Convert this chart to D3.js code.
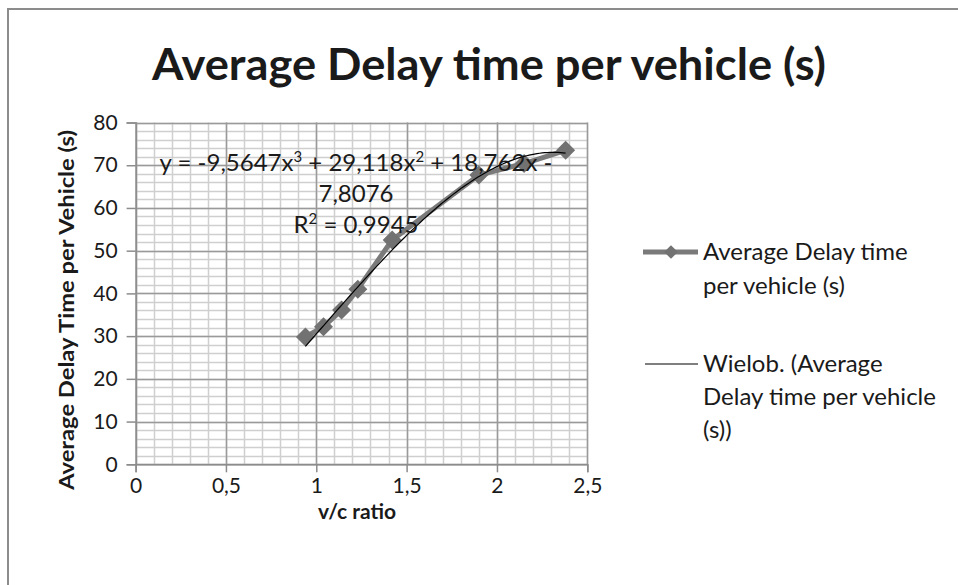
<!DOCTYPE html>
<html>
<head>
<meta charset="utf-8">
<script src="https://d3js.org/d3.v7.min.js"></script>
<style>
body { margin: 0; background: #fff; }
svg { display: block; }
text { font-family: Lato, "Open Sans", sans-serif; fill: #1a1a1a; }
</style>
</head>
<body>
<div id="chart"></div>
<script>
// v/c ratio vs average delay
var vcRatio = [0.94, 1.04, 1.14, 1.23, 1.42, 1.90, 2.15, 2.38];
var avgDelay = [29.8, 32.2, 36.1, 41.0, 52.5, 67.7, 70.4, 73.5];

// polynomial trendline coefficients as printed on the chart (x^3, x^2, x, 1)
var trendCoef = [-9.5647, 29.118, 18.762, -7.8076];
// label pieces: [text, superscript?]
var trendLines = [
	[["y = -9,5647x", 0], ["3", 1], [" + 29,118x", 0], ["2", 1], [" + 18,762x -", 0]],
	[["7,8076", 0]],
	[["R", 0], ["2", 1], [" = 0,9945", 0]]
];

var xTicks = [0, 0.5, 1, 1.5, 2, 2.5];
var yTicks = [0, 10, 20, 30, 40, 50, 60, 70, 80];

var titleText = "Average Delay time per vehicle (s)";
var xTitle = "v/c ratio";
var yTitle = "Average Delay Time per Vehicle (s)";
var legendSeries = ["Average Delay time", "per vehicle (s)"];
var legendTrend = ["Wielob. (Average", "Delay time per vehicle", "(s))"];

var width = 958;
var height = 585;

var svg = d3.select("#chart")
	.append("svg")
	.attr("width", width)
	.attr("height", height);

// chart area border (only top + left visible in the original)
svg.append("rect")
	.attr("x", 8)
	.attr("y", 9)
	.attr("width", 980)
	.attr("height", 620)
	.attr("fill", "none")
	.attr("stroke", "#8c8c8c")
	.attr("stroke-width", 2);

var x = d3.scaleLinear().domain([0, 2.5]).range([135.6, 587.3]);
var y = d3.scaleLinear().domain([0, 80]).range([464.3, 122.5]);

var fmt = function(d) { return String(d).replace(".", ","); };

// minor grid
var gGrid = svg.append("g");
gGrid.selectAll("line.vminor")
	.data(d3.range(0, 26).map(function(i) { return i / 10; }))
	.enter().append("line")
	.attr("x1", function(d) { return Math.round(x(d)) + 0.5; })
	.attr("x2", function(d) { return Math.round(x(d)) + 0.5; })
	.attr("y1", y(80))
	.attr("y2", y(0))
	.attr("stroke", "#cfcfcf")
	.attr("stroke-width", 1.5);
gGrid.selectAll("line.hminor")
	.data(d3.range(0, 41).map(function(i) { return i * 2; }))
	.enter().append("line")
	.attr("x1", x(0))
	.attr("x2", x(2.5))
	.attr("y1", function(d) { return Math.round(y(d)) + 0.5; })
	.attr("y2", function(d) { return Math.round(y(d)) + 0.5; })
	.attr("stroke", "#cfcfcf")
	.attr("stroke-width", 1.5);

// major grid
gGrid.selectAll("line.vmajor")
	.data(xTicks)
	.enter().append("line")
	.attr("x1", function(d) { return Math.round(x(d)) + 0.5; })
	.attr("x2", function(d) { return Math.round(x(d)) + 0.5; })
	.attr("y1", y(80))
	.attr("y2", y(0))
	.attr("stroke", "#9a9a9a")
	.attr("stroke-width", 1.5);
gGrid.selectAll("line.hmajor")
	.data(yTicks)
	.enter().append("line")
	.attr("x1", x(0))
	.attr("x2", x(2.5))
	.attr("y1", function(d) { return Math.round(y(d)) + 0.5; })
	.attr("y2", function(d) { return Math.round(y(d)) + 0.5; })
	.attr("stroke", "#9a9a9a")
	.attr("stroke-width", 1.5);

// axes
var xAxis = d3.axisBottom(x).tickValues(xTicks).tickFormat(fmt).tickSize(8).tickPadding(6);
var yAxis = d3.axisLeft(y).tickValues(yTicks).tickFormat(fmt).tickSize(9).tickPadding(9);

var gx = svg.append("g").attr("transform", "translate(0," + y(0) + ")").call(xAxis);
var gy = svg.append("g").attr("transform", "translate(" + x(0) + ",0)").call(yAxis);
[gx, gy].forEach(function(g) {
	g.select(".domain").attr("stroke", "#8c8c8c").attr("stroke-width", 1.5);
	g.selectAll(".tick line").attr("stroke", "#8c8c8c").attr("stroke-width", 1.5);
	g.selectAll(".tick text")
		.attr("font-size", "21px")
		.attr("font-family", "Lato, sans-serif")
		.attr("fill", "#1a1a1a");
});

// series line + diamonds
var pts = vcRatio.map(function(v, i) { return [v, avgDelay[i]]; });
var line = d3.line().x(function(d) { return x(d[0]); }).y(function(d) { return y(d[1]); });

svg.append("path")
	.datum(pts)
	.attr("d", line)
	.attr("fill", "none")
	.attr("stroke", "#7a7a7a")
	.attr("stroke-width", 5)
	.attr("stroke-linejoin", "round");

var diamond = d3.symbol().type(d3.symbolDiamond2).size(230);
svg.selectAll("path.pt")
	.data(pts)
	.enter().append("path")
	.attr("class", "pt")
	.attr("transform", function(d) { return "translate(" + x(d[0]) + "," + y(d[1]) + ")"; })
	.attr("d", diamond)
	.attr("fill", "#727272");

// trendline over data range
var trend = function(v) {
	return trendCoef[0] * v * v * v + trendCoef[1] * v * v + trendCoef[2] * v + trendCoef[3];
};
var tx = d3.range(0, 101).map(function(i) {
	return vcRatio[0] + (vcRatio[vcRatio.length - 1] - vcRatio[0]) * i / 100;
});
svg.append("path")
	.datum(tx.map(function(v) { return [v, trend(v)]; }))
	.attr("d", line)
	.attr("fill", "none")
	.attr("stroke", "#000")
	.attr("stroke-width", 1.2);

// trend equation
var eq = svg.append("g").selectAll("text")
	.data(trendLines)
	.enter().append("text")
	.attr("x", 356)
	.attr("y", function(d, i) { return 171 + i * 31; })
	.attr("text-anchor", "middle")
	.attr("font-size", "24px");
eq.selectAll("tspan")
	.data(function(d) { return d; })
	.enter().append("tspan")
	.attr("font-size", function(d) { return d[1] ? "15px" : null; })
	.attr("dy", function(d, i, nodes) {
		if (d[1]) return -9;
		return (i > 0 && d3.select(nodes[i - 1]).datum()[1]) ? 9 : null;
	})
	.text(function(d) { return d[0]; });

// title
svg.append("text")
	.attr("x", 489)
	.attr("y", 80)
	.attr("text-anchor", "middle")
	.attr("font-size", "43px")
	.attr("font-weight", "bold")
	.attr("textLength", 674)
	.attr("lengthAdjust", "spacingAndGlyphs")
	.attr("fill", "#000")
	.text(titleText);

// axis titles
svg.append("text")
	.attr("x", 357)
	.attr("y", 519)
	.attr("text-anchor", "middle")
	.attr("font-size", "21px")
	.attr("font-weight", "bold")
	.text(xTitle);

svg.append("text")
	.attr("transform", "translate(74,310) rotate(-90)")
	.attr("text-anchor", "middle")
	.attr("font-size", "21px")
	.attr("font-weight", "bold")
	.attr("textLength", 360)
	.attr("lengthAdjust", "spacingAndGlyphs")
	.text(yTitle);

// legend
var gLeg = svg.append("g");
gLeg.append("line")
	.attr("x1", 643).attr("x2", 698)
	.attr("y1", 252).attr("y2", 252)
	.attr("stroke", "#7a7a7a")
	.attr("stroke-width", 5);
gLeg.append("path")
	.attr("transform", "translate(671,252)")
	.attr("d", d3.symbol().type(d3.symbolDiamond2).size(120))
	.attr("fill", "#727272");
gLeg.append("line")
	.attr("x1", 645).attr("x2", 698)
	.attr("y1", 364).attr("y2", 364)
	.attr("stroke", "#000")
	.attr("stroke-width", 1.2);

gLeg.selectAll("text.s")
	.data(legendSeries)
	.enter().append("text")
	.attr("x", 703)
	.attr("y", function(d, i) { return 260 + i * 34; })
	.attr("font-size", "24px")
	.text(function(d) { return d; });
gLeg.selectAll("text.t")
	.data(legendTrend)
	.enter().append("text")
	.attr("x", 703)
	.attr("y", function(d, i) { return 372 + i * 33; })
	.attr("font-size", "24px")
	.text(function(d) { return d; });
</script>
</body>
</html>
